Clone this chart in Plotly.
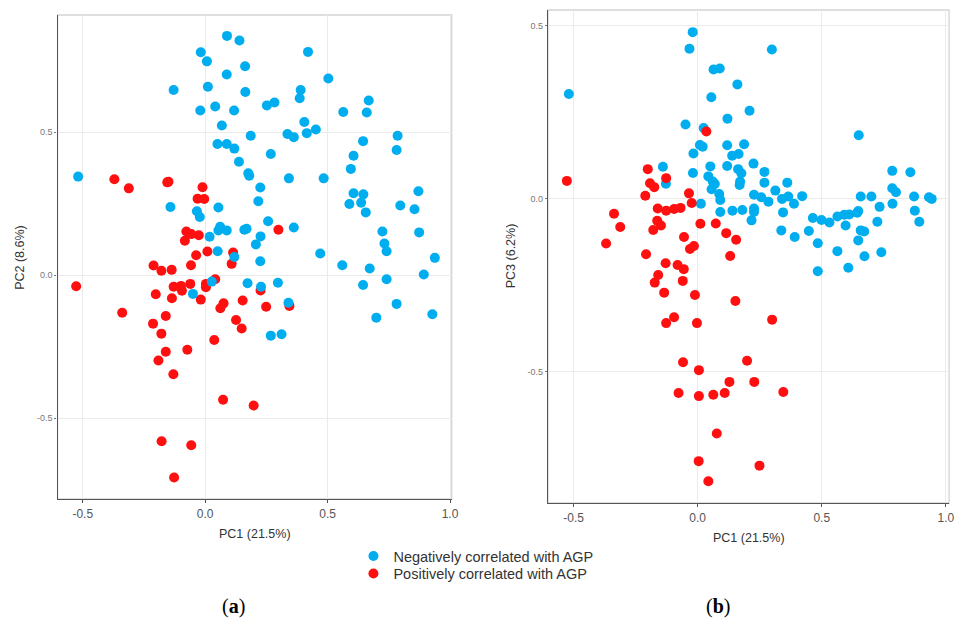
import plotly.graph_objects as go

# ---------------- data ----------------
# Panel (a): PC1 vs PC2
a_neg_pc1 = [0.089, 0.140, -0.018, 0.007, 0.420, 0.088, 0.163, -0.129, 0.011, 0.164,
             0.503, 0.390, 0.386, -0.020, 0.041, 0.118, 0.252, 0.283, 0.564, 0.668,
             0.660, 0.068, 0.405, 0.415, 0.452, 0.186, 0.336, 0.362, 0.786, 0.782,
             0.645, 0.050, 0.088, 0.119, 0.268, 0.606, 0.138, 0.176, 0.180, 0.595,
             0.342, 0.484, -0.519, 0.225, 0.606, 0.646, 0.589, 0.637, 0.656, 0.871,
             0.797, 0.855, -0.142, -0.034, -0.022, 0.054, 0.217, 0.257, 0.061, 0.088,
             0.054, 0.160, 0.169, 0.362, 0.724, 0.874, 0.018, 0.226, 0.207, 0.732,
             0.741, 0.051, 0.119, 0.470, 0.225, 0.560, 0.938, 0.672, 0.893, 0.027,
             0.173, 0.228, 0.297, 0.645, 0.741, -0.050, 0.340, 0.782, 0.699, 0.928,
             0.268, 0.312]
a_neg_pc2 = [0.837, 0.821, 0.780, 0.748, 0.781, 0.702, 0.731, 0.648, 0.659, 0.641,
             0.688, 0.648, 0.619, 0.576, 0.590, 0.576, 0.594, 0.604, 0.571, 0.611,
             0.569, 0.524, 0.536, 0.497, 0.510, 0.488, 0.494, 0.483, 0.488, 0.438,
             0.469, 0.459, 0.459, 0.443, 0.424, 0.418, 0.397, 0.357, 0.348, 0.372,
             0.339, 0.339, 0.345, 0.307, 0.287, 0.283, 0.249, 0.254, 0.220, 0.294,
             0.244, 0.231, 0.239, 0.224, 0.204, 0.237, 0.259, 0.189, 0.170, 0.157,
             0.157, 0.159, 0.163, 0.167, 0.153, 0.150, 0.135, 0.136, 0.108, 0.111,
             0.084, 0.084, 0.064, 0.076, 0.049, 0.035, 0.061, 0.024, 0.003, -0.022,
             -0.028, -0.040, -0.026, -0.034, -0.014, -0.065, -0.096, -0.100, -0.148, -0.136,
             -0.211, -0.206]
a_pos_pc1 = [-0.371, -0.312, -0.155, -0.150, -0.011, -0.031, -0.004, -0.077, -0.057, -0.026,
             -0.083, 0.299, 0.009, -0.037, 0.114, 0.108, -0.211, -0.179, -0.137, -0.058,
             -0.527, -0.129, -0.099, -0.095, -0.061, 0.003, 0.003, 0.041, -0.202, -0.136,
             -0.018, 0.075, 0.062, 0.153, 0.226, 0.249, 0.344, -0.339, -0.161, -0.213,
             -0.179, 0.126, 0.149, 0.037, -0.073, -0.161, -0.191, -0.130, 0.073, 0.198,
             -0.178, -0.057, -0.127]
a_pos_pc2 = [0.336, 0.304, 0.325, 0.327, 0.308, 0.268, 0.267, 0.153, 0.144, 0.140,
             0.121, 0.159, 0.083, 0.070, 0.080, 0.040, 0.034, 0.016, 0.019, 0.035,
             -0.038, -0.040, -0.037, -0.054, -0.030, -0.030, -0.042, -0.014, -0.066, -0.080,
             -0.085, -0.098, -0.115, -0.088, -0.053, -0.110, -0.107, -0.131, -0.142, -0.169,
             -0.204, -0.156, -0.186, -0.226, -0.260, -0.267, -0.298, -0.346, -0.435, -0.455,
             -0.580, -0.594, -0.707]

# Panel (b): PC1 vs PC3
b_neg_pc1 = [-0.020, -0.033, 0.299, 0.064, 0.089, 0.160, -0.519, 0.055, 0.209, 0.120,
             -0.049, 0.024, 0.649, 0.009, 0.020, 0.119, 0.187, -0.017, 0.139, 0.165,
             -0.140, 0.051, 0.119, 0.163, 0.176, 0.225, 0.269, -0.019, 0.043, 0.061,
             0.069, -0.128, 0.171, 0.169, 0.269, 0.361, 0.056, 0.087, 0.091, 0.313,
             0.227, 0.256, 0.285, 0.340, 0.365, 0.388, 0.421, 0.657, 0.700, 0.733,
             0.784, 0.857, 0.784, 0.799, 0.785, 0.872, 0.932, 0.943, 0.875, 0.893,
             0.013, 0.091, 0.140, 0.180, 0.227, 0.227, 0.217, 0.344, 0.464, 0.499,
             0.531, 0.563, 0.591, 0.611, 0.643, 0.647, 0.596, 0.724, 0.337, 0.448,
             0.657, 0.671, 0.391, 0.647, 0.484, 0.563, 0.672, 0.740, 0.607, 0.484]
b_neg_pc3 = [0.482, 0.434, 0.432, 0.374, 0.377, 0.331, 0.303, 0.294, 0.255, 0.232,
             0.215, 0.205, 0.184, 0.156, 0.151, 0.155, 0.158, 0.131, 0.125, 0.130,
             0.093, 0.094, 0.095, 0.086, 0.074, 0.102, 0.078, 0.075, 0.065, 0.050,
             0.043, 0.044, 0.050, 0.040, 0.047, 0.047, 0.028, 0.014, -0.003, 0.024,
             0.012, 0.005, -0.008, 0.000, 0.007, -0.014, 0.008, 0.007, 0.007, -0.023,
             0.081, 0.077, 0.031, 0.019, -0.014, 0.007, 0.005, 0.000, -0.034, -0.066,
             -0.014, -0.038, -0.034, -0.032, -0.028, -0.038, -0.062, -0.039, -0.055, -0.061,
             -0.068, -0.051, -0.046, -0.045, -0.040, -0.035, -0.077, -0.066, -0.091, -0.093,
             -0.091, -0.094, -0.110, -0.120, -0.128, -0.151, -0.166, -0.154, -0.199, -0.209]
b_pos_pc1 = [0.035, -0.527, -0.201, -0.127, -0.192, -0.175, -0.211, -0.035, -0.024, -0.161,
             -0.127, -0.095, -0.069, -0.337, -0.312, -0.369, -0.163, -0.148, -0.179, 0.011,
             0.073, 0.115, 0.155, -0.055, -0.031, -0.015, 0.131, -0.208, -0.129, -0.081,
             -0.056, -0.159, -0.173, -0.060, -0.135, -0.011, 0.152, -0.095, -0.127, -0.003,
             0.300, -0.059, 0.005, 0.199, 0.128, 0.228, -0.077, 0.005, 0.063, 0.109,
             0.345, 0.077, 0.004, 0.249, 0.043]
b_pos_pc3 = [0.195, 0.052, 0.086, 0.060, 0.045, 0.034, 0.009, 0.016, -0.012, -0.028,
             -0.034, -0.029, -0.026, -0.043, -0.081, -0.129, -0.063, -0.077, -0.090, -0.072,
             -0.071, -0.099, -0.118, -0.110, -0.145, -0.136, -0.165, -0.160, -0.186, -0.191,
             -0.203, -0.220, -0.242, -0.237, -0.271, -0.278, -0.295, -0.342, -0.359, -0.359,
             -0.349, -0.472, -0.495, -0.468, -0.529, -0.529, -0.561, -0.570, -0.566, -0.561,
             -0.558, -0.678, -0.758, -0.771, -0.816]

tick_vals_x = [-0.5, 0.0, 0.5, 1.0]
tick_text_x = ["-0.5", "0.0", "0.5", "1.0"]
tick_vals_y = [-0.5, 0.0, 0.5]
tick_text_y = ["-0.5", "0.0", "0.5"]

neg_name = "Negatively correlated with AGP"
pos_name = "Positively correlated with AGP"
x_title = "PC1 (21.5%)"
a_y_title = "PC2 (8.6%)"
b_y_title = "PC3 (6.2%)"

# ---------------- styling ----------------
BLUE = "#00AEEF"
RED = "#FF1010"
W, H = 968, 619
FONT = "Liberation Sans, Arial, sans-serif"

def px_x(p):
    return p / W

def px_y(p):
    return 1 - p / H

# panel pixel boxes: left, top, right, bottom
box_a = (58, 15, 455, 499)
box_b = (552, 10, 956, 503)

fig = go.Figure()

mk = dict(size=10, line=dict(width=0))

# panel a: red first, blue over it
fig.add_trace(go.Scatter(x=a_pos_pc1, y=a_pos_pc2, mode="markers", name=pos_name,
                         marker=dict(color=RED, **mk), xaxis="x", yaxis="y",
                         legend="legend2", showlegend=True))
fig.add_trace(go.Scatter(x=a_neg_pc1, y=a_neg_pc2, mode="markers", name=neg_name,
                         marker=dict(color=BLUE, **mk), xaxis="x", yaxis="y",
                         legend="legend", showlegend=True))
# panel b: blue first, red over it
fig.add_trace(go.Scatter(x=b_neg_pc1, y=b_neg_pc3, mode="markers", name=neg_name,
                         marker=dict(color=BLUE, **mk), xaxis="x2", yaxis="y2",
                         showlegend=False))
fig.add_trace(go.Scatter(x=b_pos_pc1, y=b_pos_pc3, mode="markers", name=pos_name,
                         marker=dict(color=RED, **mk), xaxis="x2", yaxis="y2",
                         showlegend=False))

def xaxis(box, rng, anchor):
    return dict(domain=[px_x(box[0]), px_x(box[2])], range=rng, anchor=anchor,
                tickvals=tick_vals_x, ticktext=tick_text_x,
                showgrid=True, gridcolor="#EBEBEB", gridwidth=1, zeroline=False,
                showline=True, linecolor="#555555", linewidth=1.3,
                ticks="outside", ticklen=3, tickcolor="#555555",
                tickfont=dict(family=FONT, size=12, color="#555555"))

def yaxis(box, rng, anchor):
    return dict(domain=[px_y(box[3]), px_y(box[1])], range=rng, anchor=anchor,
                tickvals=tick_vals_y, ticktext=tick_text_y,
                showgrid=True, gridcolor="#EBEBEB", gridwidth=1, zeroline=False,
                showline=True, linecolor="#555555", linewidth=1.3,
                ticks="outside", ticklen=2, tickcolor="#777777",
                tickfont=dict(family=FONT, size=9, color="#777777"))

fig.update_layout(
    width=W, height=H,
    margin=dict(l=0, r=0, t=0, b=0),
    paper_bgcolor="white", plot_bgcolor="white",
    font=dict(family=FONT, color="#333333"),
    xaxis=xaxis(box_a, [-0.603, 1.007], "y"),
    yaxis=yaxis(box_a, [-0.782, 0.910], "x"),
    xaxis2=xaxis(box_b, [-0.603, 1.013], "y2"),
    yaxis2=yaxis(box_b, [-0.879, 0.546], "x2"),
    legend=dict(x=px_x(356), y=px_y(556), xanchor="left", yanchor="middle",
                bgcolor="rgba(0,0,0,0)", borderwidth=0,
                font=dict(family=FONT, size=14.5, color="#333333")),
    legend2=dict(x=px_x(356), y=px_y(573.5), xanchor="left", yanchor="middle",
                 bgcolor="rgba(0,0,0,0)", borderwidth=0,
                 font=dict(family=FONT, size=14.5, color="#333333")),
)

# light panel border (top/right visible)
for box in (box_a, box_b):
    fig.add_shape(type="rect", xref="paper", yref="paper",
                  x0=px_x(box[0]), x1=px_x(box[2]), y0=px_y(box[3]), y1=px_y(box[1]),
                  line=dict(color="#D4D4D4", width=1.3), fillcolor="rgba(0,0,0,0)",
                  layer="below")

# axis titles
ann = [
    dict(text=x_title, x=px_x(256.5), y=px_y(534), xanchor="center", yanchor="middle", textangle=0),
    dict(text=a_y_title, x=px_x(20), y=px_y(257), xanchor="center", yanchor="middle", textangle=-90),
    dict(text=x_title, x=px_x(754), y=px_y(538), xanchor="center", yanchor="middle", textangle=0),
    dict(text=b_y_title, x=px_x(515), y=px_y(256), xanchor="center", yanchor="middle", textangle=-90),
]
for a in ann:
    fig.add_annotation(xref="paper", yref="paper", showarrow=False,
                       font=dict(family=FONT, size=12.5, color="#333333"), **a)

# panel labels
for lab, cx in (("a", 235.5), ("b", 723)):
    fig.add_annotation(xref="paper", yref="paper", showarrow=False,
                       text="(<b>" + lab + "</b>)", x=px_x(cx), y=px_y(606),
                       xanchor="center", yanchor="middle",
                       font=dict(family="Liberation Serif, DejaVu Serif, serif", size=20, color="black"))

fig.write_html("out.html",
               config={"displayModeBar": False},
               post_script="document.body.style.margin='0px';document.body.style.overflow='hidden';")
